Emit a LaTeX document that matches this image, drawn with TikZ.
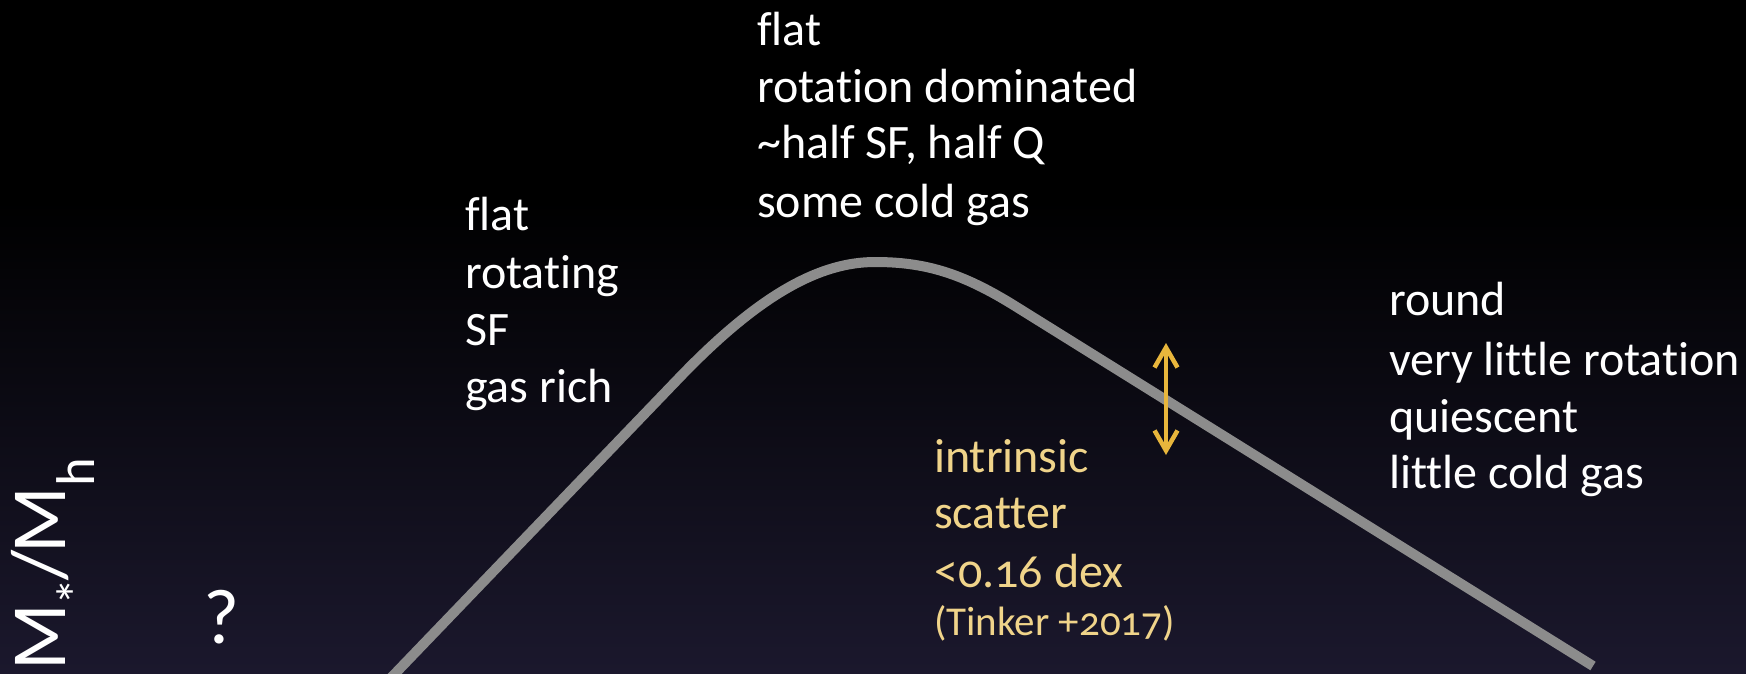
\documentclass[tikz,border=0pt]{standalone}
\usepackage{fontspec}
\setmainfont{Carlito}[Numbers=OldStyle, Ligatures=NoCommon]
\usetikzlibrary{arrows.meta}
\definecolor{navybg}{RGB}{27,24,45}
\definecolor{curvegray}{RGB}{140,140,140}
\definecolor{goldtext}{RGB}{240,212,138}
\definecolor{goldarrow}{RGB}{232,182,60}
\begin{document}
\begin{tikzpicture}[x=1pt,y=-1pt,
  wtext/.style={anchor=base west, inner sep=0pt, text=white, font=\fontsize{48}{57}\selectfont},
  gtext/.style={wtext, text=goldtext},
  gsmall/.style={gtext, font=\fontsize{41}{48}\selectfont},
  bigtext/.style={anchor=base west, inner sep=0pt, text=white, font=\fontsize{78}{90}\selectfont},
  relation/.style={draw=curvegray, line width=10pt, line cap=butt, line join=round},
  scatterarrow/.style={draw=goldarrow, line width=4.5pt, {Straight Barb[length=20pt,width=23pt]}-{Straight Barb[length=20pt,width=23pt]}}
]
\useasboundingbox (0,0) rectangle (1746,673);
\fill[black] (0,0) rectangle (1746,673);
\shade[top color=black, bottom color=navybg] (0,200) rectangle (1746,673);
\begin{scope}
\clip (0,0) rectangle (1746,673);
\coordinate (cstart) at (386,683);
\coordinate (cbend) at (680,377);
\coordinate (cpeak) at (875,262);
\coordinate (cknee) at (1015,306);
\coordinate (cend) at (1593,666);
\draw[relation] (cstart) -- (cbend)
  .. controls (760,294) and (820,262) .. (cpeak)
  .. controls (925,262) and (962,273) .. (cknee) -- (cend);
\end{scope}

% axis label and question mark
\node[bigtext, rotate=90] (ylabel) at (65,671) {M\kern-1pt\textsubscript{*}\kern-3pt/\kern-3pt M\textsubscript{h}};
\node[bigtext] (qmark) at (203,643) {?};

% left block
\node[wtext] (l1) at (465,230) {flat};
\node[wtext] (l2) at (465,288) {rotating};
\node[wtext] (l3) at (465,345) {SF};
\node[wtext] (l4) at (465,402) {gas rich};

% top block
\node[wtext] (t1) at (757,45) {flat};
\node[wtext] (t2) at (757,102) {rotation dominated};
\node[wtext] (t3) at (757,158) {\textasciitilde half SF, half Q};
\node[wtext] (t4) at (757,217) {some cold gas};

% right block
\node[wtext] (r1) at (1389,315) {round};
\node[wtext] (r2) at (1389,375) {very little rotation};
\node[wtext] (r3) at (1389,432) {quiescent};
\node[wtext] (r4) at (1389,488) {little cold gas};

% scatter block
\node[gtext] (g1) at (934,472) {intrinsic};
\node[gtext] (g2) at (934,528) {scatter};
\node[gtext] (g3) at (934,587) {<0.16 dex};
\node[gsmall] (g4) at (934,635) {(Tinker +2017)};

\coordinate (atop) at (1166,343);
\coordinate (abot) at (1166,455);
\draw[scatterarrow] (abot) -- (atop);
\end{tikzpicture}
\end{document}
